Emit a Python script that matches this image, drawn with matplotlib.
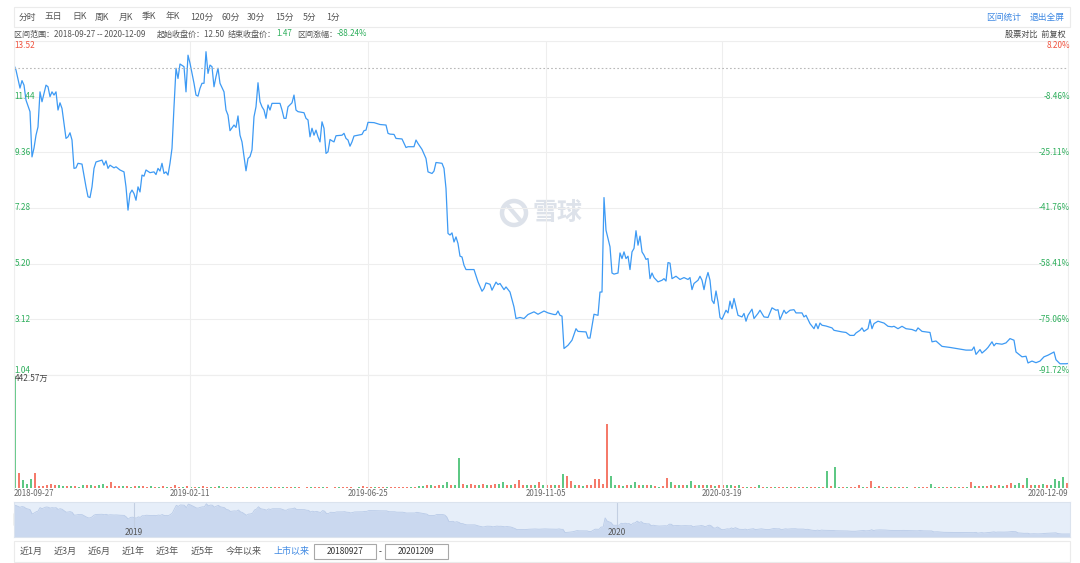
import numpy as np
import matplotlib.pyplot as plt
from matplotlib.patches import Rectangle, Circle

plt.rcParams['font.family'] = ['Noto Sans CJK SC', 'DejaVu Sans']

# ---- data (trading-day index, close in yuan) ----
day = [0, 1, 3, 4, 5, 6, 8, 9, 10, 11,
       12, 13, 14, 16, 17, 18, 19, 20, 21, 22,
       23, 24, 26, 27, 28, 29, 30, 31, 32, 34,
       36, 37, 38, 39, 40, 41, 44, 45, 46, 47,
       48, 50, 51, 53, 55, 56, 57, 58, 59, 60,
       61, 62, 63, 64, 65, 66, 68, 70, 71, 72,
       73, 74, 75, 76, 77, 78, 79, 80, 81, 82,
       83, 85, 86, 87, 88, 90, 91, 92, 93, 94,
       95, 96, 97, 98, 99, 100, 101, 102, 103, 105,
       106, 107, 108, 110, 111, 112, 113, 114, 116, 117,
       118, 119, 120, 121, 122, 123, 124, 125, 126, 127,
       128, 129, 131, 133, 134, 135, 136, 137, 139, 140,
       141, 142, 145, 146, 147, 148, 149, 150, 151, 152,
       153, 154, 155, 156, 157, 158, 159, 160, 161, 164,
       165, 166, 167, 168, 169, 170, 172, 174, 175, 176,
       177, 180, 183, 186, 187, 188, 190, 191, 194, 196,
       197, 200, 201, 202, 204, 206, 207, 209, 210, 211,
       214, 215, 216, 217, 218, 219, 220, 221, 222, 223,
       224, 225, 226, 230, 232, 234, 235, 236, 238, 239,
       241, 242, 243, 245, 246, 248, 250, 251, 253, 255,
       257, 260, 262, 265, 267, 270, 271, 272, 273, 274,
       275, 277, 279, 281, 282, 286, 287, 288, 290, 292,
       293, 294, 295, 296, 298, 299, 300, 302, 303, 304,
       305, 306, 307, 308, 309, 310, 311, 312, 313, 314,
       315, 316, 317, 318, 319, 320, 322, 324, 325, 326,
       327, 328, 329, 331, 333, 335, 337, 338, 339, 340,
       342, 343, 344, 345, 346, 347, 348, 349, 350, 351,
       352, 353, 354, 356, 357, 358, 359, 360, 362, 364,
       365, 366, 367, 369, 370, 372, 373, 375, 377, 379,
       381, 382, 383, 385, 386, 388, 390, 391, 394, 395,
       396, 398, 400, 401, 402, 403, 404, 406, 409, 410,
       414, 416, 418, 420, 421, 423, 424, 425, 427, 428,
       429, 430, 432, 435, 437, 439, 440, 442, 444, 446,
       449, 451, 452, 454, 456, 458, 459, 461, 464, 468,
       473, 476, 479, 480, 481, 483, 484, 486, 487, 489,
       490, 491, 494, 496, 498, 500, 501, 503, 504, 506,
       507, 509, 511, 513, 515, 517, 520, 521, 523, 526,
       527]
close = [12.62, 12.43, 11.76, 12.04, 11.87, 11.31, 10.88, 9.19, 9.52, 10.00,
         10.31, 11.62, 11.25, 11.87, 11.81, 11.44, 11.62, 11.50, 11.62, 10.94,
         11.21, 11.00, 9.88, 9.94, 10.09, 9.82, 8.76, 8.78, 8.95, 8.92,
         8.07, 7.70, 7.67, 8.07, 8.76, 9.00, 9.07, 8.88, 9.04, 8.76,
         8.88, 8.78, 8.82, 8.70, 8.63, 8.07, 7.20, 7.82, 7.95, 7.82,
         7.57, 8.07, 7.88, 8.51, 8.47, 8.70, 8.60, 8.63, 8.53, 8.76,
         8.66, 8.95, 8.57, 8.63, 8.51, 8.95, 9.51, 11.06, 12.50, 12.12,
         12.66, 12.56, 11.62, 12.99, 12.69, 11.94, 11.50, 11.46, 11.75, 11.94,
         11.94, 13.12, 12.31, 12.62, 12.56, 11.81, 12.19, 12.50, 11.94, 11.62,
         10.94, 10.75, 10.17, 10.38, 10.29, 10.72, 10.00, 9.75, 8.67, 9.13,
         9.20, 9.45, 10.69, 11.06, 11.96, 11.25, 11.06, 10.94, 10.63, 11.13,
         10.94, 11.19, 11.19, 11.19, 10.94, 10.63, 10.63, 11.06, 11.21, 11.50,
         10.94, 10.88, 10.84, 10.63, 10.57, 9.94, 10.26, 10.00, 10.19, 9.94,
         9.75, 10.50, 10.26, 9.32, 9.38, 9.84, 9.79, 9.75, 9.98, 10.00,
         10.07, 9.88, 9.82, 9.59, 9.75, 9.97, 10.00, 10.03, 10.17, 10.19,
         10.48, 10.47, 10.40, 10.38, 10.07, 10.04, 10.03, 9.88, 9.86, 9.54,
         9.57, 9.57, 9.82, 9.69, 9.47, 9.13, 8.63, 8.57, 8.66, 8.98,
         8.95, 8.76, 8.01, 6.33, 6.27, 6.35, 6.01, 6.20, 5.95, 5.48,
         5.45, 5.14, 4.98, 4.98, 4.52, 4.17, 4.27, 4.48, 4.43, 4.21,
         4.51, 4.42, 4.46, 4.23, 4.33, 4.14, 3.58, 3.15, 3.19, 3.15,
         3.30, 3.40, 3.31, 3.43, 3.36, 3.30, 3.30, 3.43, 3.27, 3.24,
         2.03, 2.15, 2.34, 2.77, 2.67, 2.65, 2.42, 2.42, 3.31, 3.27,
         4.14, 4.14, 7.67, 6.45, 5.83, 4.85, 4.81, 4.85, 5.60, 5.39,
         5.64, 5.39, 5.48, 4.98, 5.64, 5.77, 6.43, 5.89, 6.23, 5.64,
         5.52, 5.36, 5.39, 4.64, 4.85, 4.68, 4.52, 4.58, 4.64, 4.55,
         5.24, 5.22, 4.64, 4.73, 4.61, 4.68, 4.61, 4.68, 4.23, 4.46,
         4.58, 4.73, 4.58, 4.23, 4.62, 4.87, 4.58, 3.83, 3.71, 4.18,
         3.77, 3.19, 3.12, 3.46, 3.36, 3.80, 3.52, 3.90, 3.27, 3.21,
         3.34, 3.05, 3.27, 3.50, 3.15, 3.34, 3.46, 3.21, 3.19, 3.55,
         3.46, 3.48, 3.11, 3.46, 3.34, 3.46, 3.48, 3.36, 3.36, 3.21,
         3.27, 2.96, 2.77, 2.96, 2.77, 2.98, 2.90, 2.87, 2.80, 2.71,
         2.65, 2.63, 2.52, 2.52, 2.61, 2.71, 2.80, 2.67, 2.77, 3.11,
         2.77, 2.96, 3.05, 2.98, 2.86, 2.84, 2.86, 2.77, 2.86, 2.77,
         2.74, 2.68, 2.80, 2.67, 2.65, 2.63, 2.28, 2.31, 2.11, 2.07,
         2.01, 1.97, 1.97, 2.09, 1.81, 1.99, 1.86, 1.99, 2.07, 2.28,
         2.13, 2.22, 2.19, 2.24, 2.40, 2.34, 1.90, 1.78, 1.72, 1.74,
         1.49, 1.56, 1.50, 1.56, 1.72, 1.78, 1.90, 1.61, 1.46, 1.46,
         1.47]

# volume in 万 shares, one bar per two trading days, and its up/down flag
vol = [442.57, 60, 30, 14, 35, 57, 8, 8, 10, 16, 12, 10,
       6, 8, 6, 7, 5, 11, 10, 12, 9, 11, 15, 8,
       24, 6, 7, 6, 7, 5, 6, 8, 7, 5, 6, 4,
       5, 6, 5, 4, 11, 5, 4, 6, 5, 4, 5, 6,
       5, 4, 5, 9, 4, 5, 4, 3, 4, 3, 4, 3,
       3, 4, 3, 3, 4, 3, 2, 3, 2, 2, 3, 2,
       1, 2, 3, 2, 2, 3, 2, 1, 2, 2, 3, 2,
       2, 1, 2, 8, 3, 2, 3, 3, 2, 3, 2, 3,
       4, 3, 4, 3, 4, 9, 8, 10, 11, 9, 10, 12,
       24, 12, 11, 117, 14, 13, 15, 13, 12, 14, 13, 12,
       15, 14, 22, 13, 12, 14, 31, 12, 11, 12, 13, 22,
       12, 11, 13, 12, 12, 55, 48, 27, 10, 11, 9, 10,
       11, 35, 37, 14, 250, 47, 10, 11, 9, 10, 11, 24,
       11, 10, 12, 11, 6, 5, 6, 40, 22, 11, 10, 12,
       11, 28, 10, 11, 10, 12, 10, 9, 11, 10, 12, 10,
       9, 10, 4, 4, 5, 4, 10, 3, 2, 3, 3, 2,
       3, 2, 3, 3, 2, 4, 4, 3, 4, 4, 5, 68,
       6, 82, 5, 4, 4, 4, 5, 12, 4, 4, 29, 4,
       8, 3, 3, 4, 3, 3, 2, 2, 1, 2, 2, 2,
       2, 15, 3, 3, 4, 3, 3, 4, 3, 3, 4, 22,
       8, 7, 9, 8, 12, 9, 10, 9, 10, 20, 13, 18,
       13, 40, 12, 13, 11, 14, 12, 13, 36, 28, 45, 20]
vol_dir = ("grgggrrrrrrg" "grgrggrgrggr" "rrrgrgrgrrgr" "grgrrrgrgrgr"
           "rgrgrgrrgrgr" "rgrrgrrgrrgr" "rrgrrgrrrgrr" "rrgrrrgrrgrr"
           "rrrgrggrgrrg" "grggrgrrgrgr" "rggrgrrrgrgr" "grrgrgrrgrgr"
           "rrrrrggrgrgg" "rgrgrgrrgrgr" "ggrgrgrgrrgg" "rgrgrrgrgrgr"
           "rgrrgrgrrgrg" "rggrgrrrgrrg" "rgrgrgrgrrgr" "rggrgrgrgrgr"
           "grgrrgrgrrgg" "rgrgrgrgggg" "r")

price_ticks = [1.04, 3.12, 5.20, 7.28, 9.36, 11.44, 13.52]
pct_labels = ['-91.72%', '-75.06%', '-58.41%', '-41.76%', '-25.11%', '-8.46%', '8.20%']
date_pos = [0, 88, 177, 266, 354, 527]
date_labels = ['2018-09-27', '2019-02-11', '2019-06-25', '2019-11-05', '2020-03-19', '2020-12-09']
year_pos = [60, 301]
year_labels = ['2019', '2020']
start_close = 12.50
end_close = 1.47
change_pct = '-88.24%'
vol_max = 442.57
toolbar = ['分时', '五日', '日K', '周K', '月K', '季K', '年K', '120分', '60分', '30分', '15分', '5分', '1分']
ranges = ['近1月', '近3月', '近6月', '近1年', '近3年', '近5年', '今年以来', '上市以来']

W, H = 1080, 563
LINE = '#3d9af4'
RED = '#f0533f'
GREEN = '#2dae5b'
LINK = '#3d88e3'
GRID = '#eeeeee'
TXT = '#555555'


def rect(x0, y0, x1, y1):
    return [x0 / W, 1 - y1 / H, (x1 - x0) / W, (y1 - y0) / H]


fig = plt.figure(figsize=(W / 100, H / 100), dpi=100)

# background layer in pixel coordinates (frames, texts, watermark)
bg = fig.add_axes([0, 0, 1, 1])
bg.set_xlim(0, W)
bg.set_ylim(H, 0)
bg.axis('off')

bg.add_patch(Rectangle((14, 7), 1056, 20, fill=False, ec='#ebebeb', lw=0.8))
tb_x = [19, 45, 72, 95, 119, 142, 166, 190, 221, 247, 275, 303, 326]
for x, t in zip(tb_x, toolbar):
    bg.text(x, 17, t, fontsize=6.3, color=TXT, va='center')
bg.text(986, 17, '区间统计', fontsize=6.3, color=LINK, va='center')
bg.text(1030, 17, '退出全屏', fontsize=6.3, color=LINK, va='center')

info = dict(fontsize=5.8, va='center')
bg.text(14, 34, f'区间范围：{date_labels[0]} -- {date_labels[-1]}', color=TXT, **info)
bg.text(157, 34, f'起始收盘价：{start_close:.2f}', color=TXT, **info)
bg.text(228, 34, '结束收盘价：', color=TXT, **info)
bg.text(276, 34, f'{end_close:.2f}', color=GREEN, **info)
bg.text(297, 34, '区间涨幅：', color=TXT, **info)
bg.text(337, 34, change_pct, color=GREEN, **info)
bg.text(1066, 34, '股票对比  前复权', color='#444444', ha='right',
        fontsize=5.9, va='center')

# watermark
wm = '#dde2ea'
bg.add_patch(Circle((514, 213), 12, fill=False, ec=wm, lw=3.2))
bg.plot([508, 520], [206, 220], color=wm, lw=3, solid_capstyle='round')
bg.text(558, 213, '雪球', fontsize=18, fontweight='bold', color=wm, ha='center', va='center')

# date labels
for i, (p, lab) in enumerate(zip(date_pos, date_labels)):
    ha = 'left' if i == 0 else ('right' if i == len(date_pos) - 1 else 'center')
    bg.text(14 + p * 2, 493, lab, fontsize=5.7, color='#666666', ha=ha, va='center')

# bottom range bar
bg.add_patch(Rectangle((14, 541), 1056, 21, fill=False, ec='#ebebeb', lw=0.8))
rg_x = [20, 54, 88, 122, 156, 191, 226, 274]
for x, t in zip(rg_x, ranges):
    bg.text(x, 551.5, t, fontsize=6.5, color=LINK if t == '上市以来' else TXT, va='center')
bg.add_patch(Rectangle((314, 544), 62, 15, fill=False, ec='#a8a8a8', lw=0.8))
bg.add_patch(Rectangle((385, 544), 63, 15, fill=False, ec='#a8a8a8', lw=0.8))
bg.text(345, 551.5, date_labels[0].replace('-', ''), fontsize=6, color='#333333',
        ha='center', va='center')
bg.text(416.5, 551.5, date_labels[-1].replace('-', ''), fontsize=6, color='#333333',
        ha='center', va='center')
bg.text(380.5, 551.5, '-', fontsize=6, color='#333333', ha='center', va='center')

# navigator handles
bg.add_patch(Rectangle((14, 513), 3, 12, color='#b4b4b4'))
bg.add_patch(Rectangle((1066, 513), 3, 12, color='#b4b4b4'))

# ---- price panel ----
ax = fig.add_axes(rect(14, 41, 1068, 375))
ax.patch.set_alpha(0)
ax.plot(day, close, color=LINE, lw=0.9)
ax.axhline(start_close, color='#b8b8b8', lw=0.8, ls=(0, (1.5, 2)))
ax.set_xlim(0, 527)
ax.set_ylim(price_ticks[0], price_ticks[-1])
ax.set_yticks(price_ticks)
ax.set_xticks(date_pos)
ax.grid(True, color=GRID, lw=0.8)
ax.tick_params(length=0, labelleft=False, labelbottom=False)
for s in ax.spines.values():
    s.set_color(GRID)
for i, (p, lab) in enumerate(zip(price_ticks, pct_labels)):
    col = RED if p > start_close else GREEN
    va = 'top' if i == len(price_ticks) - 1 else ('bottom' if i == 0 else 'center')
    ax.text(0.0005, p, f'{p:.2f}', transform=ax.get_yaxis_transform(),
            fontsize=5.9, color=col, ha='left', va=va)
    ax.text(1.002, p, lab, transform=ax.get_yaxis_transform(),
            fontsize=5.9, color=col, ha='right', va=va)

# ---- volume panel ----
axv = fig.add_axes(rect(14, 375, 1068, 488))
axv.patch.set_alpha(0)
vx = [2 * j for j in range(len(vol))]
vcol = ['#f46c5a' if (j < len(vol_dir) and vol_dir[j] == 'r') else '#4cc277'
        for j in range(len(vol))]
axv.bar(vx, vol, width=1.1, align='edge', color=vcol, lw=0, alpha=0.9)
axv.set_xlim(0, 527)
axv.set_ylim(0, vol_max)
axv.set_xticks(date_pos)
axv.set_yticks([])
axv.grid(True, axis='x', color=GRID, lw=0.8)
axv.tick_params(length=0, labelbottom=False)
for s in axv.spines.values():
    s.set_color(GRID)
axv.spines['bottom'].set_visible(False)
axv.text(0.0005, 0.97, f'{vol_max:.2f}万', transform=axv.transAxes,
         fontsize=5.9, color='#444444', ha='left', va='center')

# ---- navigator ----
axn = fig.add_axes(rect(14, 502, 1070, 537))
axn.set_facecolor('#e6eef9')
axn.fill_between(day, close, 0, color='#cad8ef', lw=0)
axn.plot(day, close, color='#b9cbe8', lw=0.6)
axn.set_xlim(0, 527)
axn.set_ylim(0.3, 13.8)
axn.set_xticks([])
axn.set_yticks([])
for s in axn.spines.values():
    s.set_color('#dbe3ee')
for yp, yl in zip(year_pos, year_labels):
    axn.axvline(yp, ymin=0.3, color='#c3cfe2', lw=0.8)
    axn.text(yp, 0.14, yl, transform=axn.get_xaxis_transform(), fontsize=5.9,
             color='#555555', ha='center', va='center')

fig.savefig('out.png', dpi=100)
